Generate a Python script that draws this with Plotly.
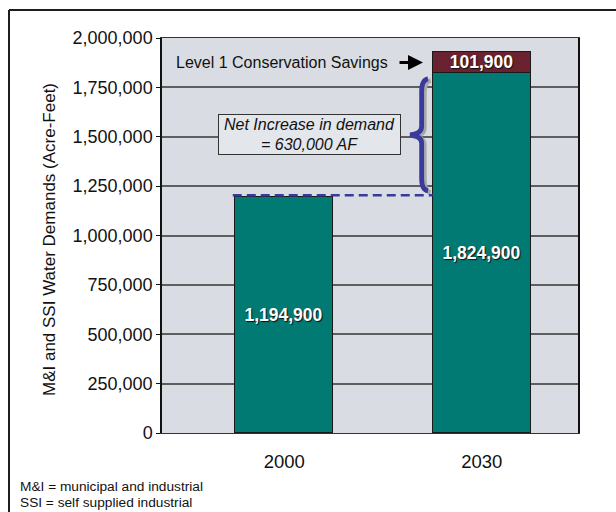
import plotly.graph_objects as go

# Water demand data (acre-feet)
years = ["2000", "2030"]
demand = [1194900, 1824900]
savings = [None, 101900]
y_ticks = [0, 250000, 500000, 750000, 1000000, 1250000, 1500000, 1750000, 2000000]
footnotes = ["M&I = municipal and industrial", "SSI = self supplied industrial"]

FONT = "Liberation Sans, Arial, sans-serif"
TEAL = "#007a72"
MAROON = "#6b2230"
BRACE = "#3a3a9c"

W, H = 616, 512
L, R, T, B = 162, 38, 38, 79
PW, PH = W - L - R, H - T - B


def paper_x(px):
    return (px - L) / PW


def paper_y(py):
    return (H - B - py) / PH


xpos = [0, 1]
bar_w = 0.4965

label_font = dict(family=FONT, size=17.5, color="white", weight="bold",
                  shadow="1px 1px 1px #111")

fig = go.Figure()
fig.add_trace(go.Bar(
    x=xpos, y=demand, width=bar_w,
    marker=dict(color=TEAL, line=dict(color="#1a1a1a", width=1)),
    texttemplate="%{y:,}", textposition="inside", insidetextanchor="middle",
    constraintext="none", textangle=0, textfont=label_font,
    hoverinfo="skip",
))
fig.add_trace(go.Bar(
    x=xpos, y=savings, width=bar_w,
    marker=dict(color=MAROON, line=dict(color="#1a1a1a", width=1)),
    texttemplate="%{y:,}", textposition="inside", insidetextanchor="middle",
    constraintext="none", textangle=0, textfont=label_font,
    hoverinfo="skip",
))

# Net increase bracket next to the 2030 bar
inc = demand[1] - demand[0]
edge = xpos[1] - bar_w / 2
xe, xs, xt = edge - 0.024, edge - 0.056, edge - 0.115
mid = (demand[0] + demand[1]) / 2
hi, lo = mid + 0.45 * inc, mid - 0.45 * inc
h = hi - lo


def brace_path(dx=0.0, dy=0.0):
    pts = [
        ("M", xe, hi), ("Q", xs, hi - 0.01 * h), ("", xs, hi - 0.11 * h),
        ("L", xs, mid + 0.075 * h),
        ("Q", xs, mid + 0.01 * h), ("", xt, mid),
        ("Q", xs, mid - 0.01 * h), ("", xs, mid - 0.075 * h),
        ("L", xs, lo + 0.11 * h),
        ("Q", xs, lo + 0.01 * h), ("", xe, lo),
    ]
    return " ".join(f"{c} {x + dx:.4f},{y + dy:.1f}" if c else f"{x + dx:.4f},{y + dy:.1f}"
                    for c, x, y in pts)


shapes = [
    # bracket shadow and bracket
    dict(type="path", path=brace_path(0.014, -9000), xref="x", yref="y",
         line=dict(color="#a8a8a8", width=4.5), layer="above"),
    dict(type="path", path=brace_path(), xref="x", yref="y",
         line=dict(color=BRACE, width=4.8), layer="above"),
    # dashed reference at the 2000 demand level
    dict(type="line", xref="x", yref="y",
         x0=xpos[0] - bar_w / 2 - 0.013, x1=edge,
         y0=demand[0] + 9000, y1=demand[0] + 9000,
         line=dict(color=BRACE, width=2.5, dash="9px,5px"), layer="above"),
    # outer frame (top and left)
    dict(type="line", xref="paper", yref="paper",
         x0=paper_x(9), x1=paper_x(W + 2), y0=paper_y(10), y1=paper_y(10),
         line=dict(color="#1e1e1e", width=2)),
    dict(type="line", xref="paper", yref="paper",
         x0=paper_x(9), x1=paper_x(9), y0=paper_y(10), y1=paper_y(H + 2),
         line=dict(color="#1e1e1e", width=2)),
]

annotations = [
    dict(x=xt - 0.046, y=mid, xref="x", yref="y", xanchor="right", yanchor="middle",
         text=f"<i>Net Increase in demand<br>= {inc:,} AF</i>", showarrow=False,
         font=dict(family=FONT, size=16, color="#111"),
         bgcolor="#e3e6eb", bordercolor="#333", borderwidth=1, borderpad=1,
         width=179, height=37),
    dict(x=edge - 0.049, y=demand[1] + savings[1] / 2, xref="x", yref="y",
         ax=-25, ay=0, text="", showarrow=True, arrowhead=2, arrowsize=1,
         arrowwidth=3, arrowcolor="#000"),
    dict(x=edge - 0.049, y=demand[1] + savings[1] / 2, xref="x", yref="y",
         xanchor="right", yanchor="middle", xshift=-33,
         text="Level 1 Conservation Savings", showarrow=False,
         font=dict(family=FONT, size=16, color="#111")),
    dict(x=paper_x(49), y=paper_y(240), xref="paper", yref="paper",
         text="M&I and SSI Water Demands (Acre-Feet)", textangle=-90, showarrow=False,
         xanchor="center", yanchor="middle",
         font=dict(family=FONT, size=17, color="#111")),
]
for i, note in enumerate(footnotes):
    annotations.append(dict(
        x=paper_x(18), y=paper_y(486 + 16 * i), xref="paper", yref="paper",
        xanchor="left", yanchor="middle", text=note, showarrow=False,
        font=dict(family=FONT, size=13.7, color="#111")))

fig.update_layout(
    width=W, height=H,
    margin=dict(l=L, r=R, t=T, b=B, pad=0),
    paper_bgcolor="white", plot_bgcolor="#d9dde3",
    barmode="stack", bargap=0, showlegend=False,
    font=dict(family=FONT, color="#111"),
    shapes=shapes, annotations=annotations,
    xaxis=dict(range=[-0.6196, 1.4878], tickvals=xpos, ticktext=years,
               tickfont=dict(size=18.5, color="#111"), showgrid=False, zeroline=False,
               showline=True, linecolor="#333", linewidth=1, mirror=True,
               ticks="", ticklabelstandoff=12, fixedrange=True),
    yaxis=dict(range=[0, 2000000], tickvals=y_ticks, tickformat=",",
               tickfont=dict(size=18, color="#111"),
               showgrid=True, gridcolor="#5e5e5e", gridwidth=2, zeroline=False,
               showline=True, linecolor="#111", linewidth=1.5, mirror=True,
               ticks="outside", ticklen=4, tickcolor="#111", tickwidth=1,
               fixedrange=True),
)

fig.write_html("out.html")
